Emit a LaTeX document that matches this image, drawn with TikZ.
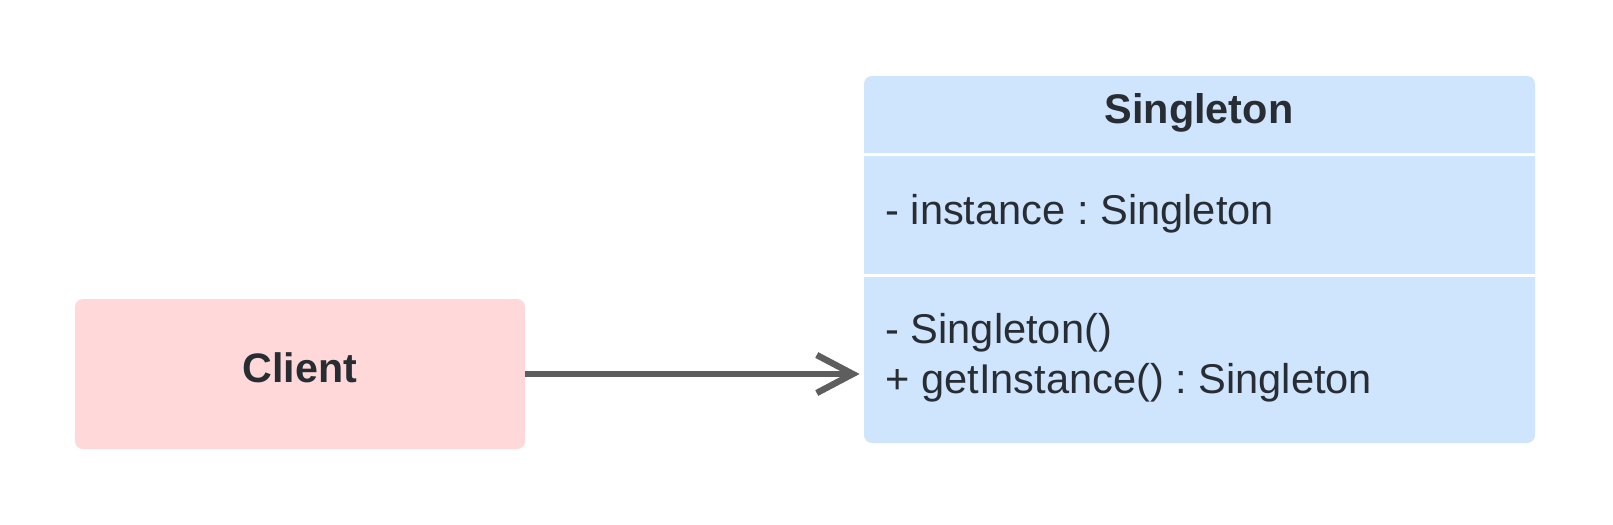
\documentclass[tikz,border=0pt]{standalone}
\usepackage{fontspec}
\setmainfont{Liberation Sans}
\frenchspacing
\usetikzlibrary{arrows.meta,calc}
\definecolor{blueF}{HTML}{CFE4FD}
\definecolor{pinkF}{HTML}{FFD8D9}
\definecolor{txt}{HTML}{282C33}
\definecolor{arr}{HTML}{5E5E5E}
\tikzset{
  px/.style={x=0.5pt,y=-0.5pt},
  boxstyle/.style={rectangle,rounded corners=4pt,inner sep=0pt,draw=none},
  lbl/.style={inner sep=0pt,text=txt,font=\fontsize{20.8}{25}\selectfont},
  sepline/.style={white,line width=1.5pt},
  conn/.style={arr,line width=3.2pt,-{Straight Barb[length=18pt,width=19pt,line cap=butt,line join=miter]}}
}
\begin{document}
\begin{tikzpicture}[px]
\useasboundingbox (0,0) rectangle (1613,525);
\fill[white] (0,0) rectangle (1613,525);
\node[boxstyle,fill=pinkF,minimum width=225pt,minimum height=75pt] (client) at (300,374) {};
\node[lbl,font=\fontsize{20.6}{25}\selectfont\bfseries] (clientT) at ([yshift=3pt]client.center) {Client};
\node[boxstyle,fill=blueF,minimum width=335.5pt,minimum height=183.5pt] (single) at (1199.5,259.5) {};
\coordinate (s1l) at (864,154);
\coordinate (s1r) at (1535,154);
\coordinate (s2l) at (864,275);
\coordinate (s2r) at (1535,275);
\draw[sepline] (s1l) -- (s1r);
\draw[sepline] (s2l) -- (s2r);
\node[lbl,font=\fontsize{20.7}{25}\selectfont\bfseries,anchor=base] (head) at (1199,123) {Singleton};
\node[lbl,anchor=base west] (attr) at (885,224) {- instance : Singleton};
\node[lbl,anchor=base west] (op1) at (885,343) {- Singleton()};
\node[lbl,anchor=base west] (op2) at (885,393) {+ getInstance() : Singleton};
\draw[conn,shorten >=2pt] (client.east) -- (client.east -| single.west);
\end{tikzpicture}
\end{document}
